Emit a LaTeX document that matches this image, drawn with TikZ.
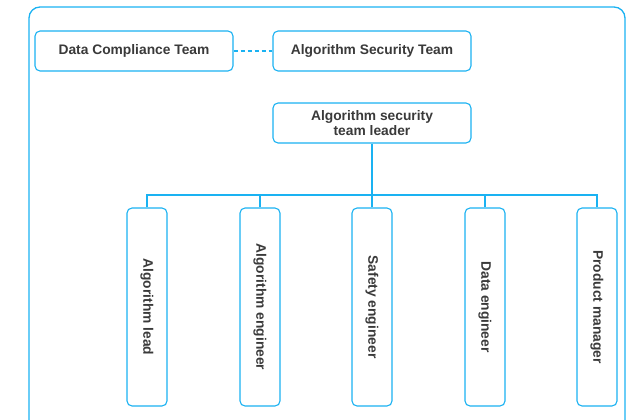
\documentclass[tikz,border=0pt]{standalone}
\usepackage{fontspec}
\setmainfont{Liberation Sans}
\definecolor{lblue}{HTML}{1AB2F2}
\definecolor{txt}{HTML}{3A3A3A}
\begin{document}
\begin{tikzpicture}[x=1pt,y=-1pt,
  box/.style={draw=lblue,line width=1.1pt,rounded corners=5pt,fill=white,text=txt,inner sep=0pt},
  hbox/.style={box,minimum width=198pt,minimum height=40pt,font=\bfseries\fontsize{13.8}{15.5}\selectfont,align=center},
  vbox/.style={box,minimum width=40pt,minimum height=198pt},
  vtext/.style={rotate=-90,text=txt,font=\fontsize{13.8}{15}\selectfont\bfseries},
  link/.style={draw=lblue,line width=1.1pt}]
\useasboundingbox (0,0) rectangle (637,420);
\draw[draw=lblue,line width=1.3pt,rounded corners=11pt] (29,7) rectangle (625,432);
\node[hbox] (dc) at (134,51) {Data Compliance Team};
\node[hbox] (ast) at (372,51) {Algorithm Security Team};
\node[hbox,align=center] (lead) at (372,123) {Algorithm security\\ team leader};
\draw[link,dash pattern=on 4pt off 3pt] (dc.east) -- (ast.west);
\foreach \n/\x/\t in {a/147/Algorithm lead,b/260/Algorithm engineer,c/372/Safety engineer,d/485/Data engineer,e/597/Product manager}{
  \node[vbox] (\n) at (\x,307) {};
  \node[vtext] at (\n.center) {\t};
}
\coordinate (bus) at (372,195);
\draw[link] (lead.south) -- (bus);
\draw[link] (a.north) -- (a.north |- bus) -- (e.north |- bus) -- (e.north);
\foreach \n in {b,c,d}{\draw[link] (\n.north) -- (\n.north |- bus);}
\end{tikzpicture}
\end{document}
